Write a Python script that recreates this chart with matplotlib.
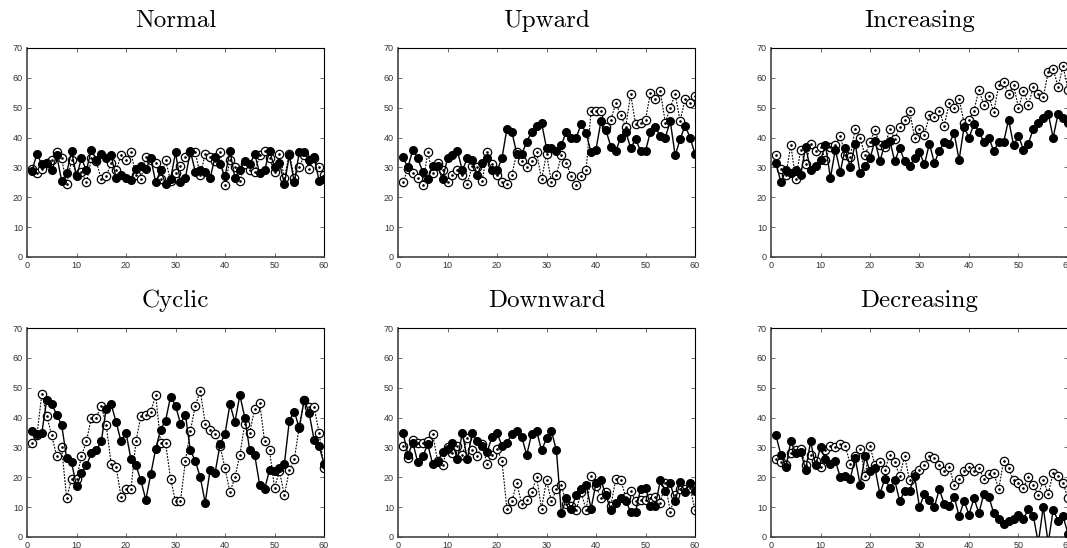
import matplotlib
matplotlib.use("Agg")
import matplotlib.pyplot as plt

# x positions: sample index 1..60
x_index = list(range(1, 61))

titles = ["Normal", "Upward", "Increasing", "Cyclic", "Downward", "Decreasing"]

normal_a = [28.8, 34.5, 31, 31.5, 29, 34, 25.5, 28, 35.5, 27, 33, 29, 36, 32.5, 34.5, 33, 34, 26.5, 27.5, 26.5,
            25.8, 29.5, 30.5, 29.5, 33, 25, 29, 24.5, 26, 35, 25, 26.5, 35.5, 28.5, 29, 28.5, 26.5, 33.5, 31, 27,
            35.5, 26.5, 29, 32, 31, 34.5, 28, 29, 35.5, 30, 31.5, 24.5, 34, 25, 35, 35, 32.5, 33.5, 25.5, 26]
normal_b = [29.5, 28, 29.5, 31.5, 32.5, 35, 33, 24.5, 32.5, 27.5, 28.5, 25, 33, 32, 26, 27, 31.5, 29, 34, 32.5,
            35, 27.5, 26, 33.5, 32.5, 31.5, 26, 32.5, 25.5, 28, 30.5, 33.5, 35, 35, 27.5, 34.5, 33.5, 32, 35, 24,
            32.5, 30, 25.5, 31, 29, 28.5, 34, 35.5, 33, 28.5, 34.5, 26.5, 34.5, 26.5, 30, 34, 29.5, 33, 30, 27.5]

upward_a = [33.5, 30, 36, 33, 28.5, 26, 30.5, 30.5, 26, 33, 34, 35.5, 29, 33, 32.5, 27.5, 31.5, 33, 29, 29,
            33, 43, 42, 34.5, 34.5, 38.5, 42, 44, 45, 36.5, 36.5, 35.5, 37.5, 42, 40, 40, 44.5, 41.5, 35, 36,
            45.5, 42.5, 37, 35.5, 40, 42, 36.5, 39.5, 35.5, 35.5, 42, 43.5, 40.5, 40, 45.5, 34, 39.5, 44, 40, 34.5]
upward_b = [25, 29.5, 28, 26.5, 24, 35, 28, 31.5, 29, 25, 27.5, 29, 27.5, 24.5, 30.5, 30, 25.5, 35, 31, 27.5,
            25, 24.5, 27.5, 35, 32, 30, 32, 35, 26, 34.5, 25, 27.5, 34, 31.5, 27, 24, 27, 29, 49, 49,
            49, 43.5, 46, 51.5, 47.5, 43.5, 54.5, 44.5, 45, 46, 55, 53, 55.5, 45, 50, 54.5, 45.5, 53, 51.5, 54]

increasing_a = [31.5, 25, 29, 28, 29, 27.5, 37, 29, 30.5, 32.5, 37.5, 26.5, 36, 28.5, 36.5, 30, 38, 28, 30.5, 33,
                39, 32, 38, 39, 32, 36.5, 32, 30.5, 33, 35, 31, 38, 31.5, 35.5, 38.5, 38, 41.5, 32.5, 43.5, 40,
                44.5, 42, 38.5, 40, 35.5, 38.5, 38.5, 46, 37.5, 40.5, 36, 38, 43, 45, 46.5, 48, 40, 48, 46.5, 45]
increasing_b = [34, 29.5, 27.5, 37.5, 26, 36, 31, 38, 35.5, 37, 32.5, 37, 37.5, 40.5, 34, 33.5, 43, 40, 34, 38.5,
                42.5, 37.5, 37, 43, 39.5, 43.5, 46, 49, 40, 43, 41, 47.5, 47, 49, 44, 51.5, 50, 53, 45, 46,
                49, 56, 51, 54, 48.5, 57.5, 58.5, 54.5, 57.5, 50, 55.5, 51, 57, 54.5, 53.5, 62, 63, 57, 64, 56]

cyclic_a = [35.5, 34.5, 35, 46, 44.5, 41, 37.5, 26.5, 25, 17, 21.5, 24, 28, 29, 32, 43, 44.5, 38.5, 32, 35,
            26, 24, 19, 12.5, 21, 29.5, 36, 39, 47, 44, 38, 41, 29, 25.5, 20, 11.5, 22.5, 21.5, 31, 34.5,
            44.5, 38.5, 47.5, 40, 29, 27.5, 17.5, 16, 22.5, 22, 23, 24.5, 39, 42, 36.5, 46, 41.5, 32.5, 30.5, 24.5]
cyclic_b = [31.5, 34, 48, 40.5, 34, 27, 30, 13, 19.5, 19.5, 27, 32, 40, 40, 44, 37.5, 24.5, 23.5, 13.5, 16,
            16, 32, 40.5, 41, 42, 47.5, 31.5, 31.5, 19.5, 12, 12, 25.5, 35.5, 44, 49, 38, 36, 34.5, 30.5, 23,
            15, 20, 27.5, 38, 35, 43, 45, 32, 29, 16.5, 22, 14, 22.5, 26, 37, 46, 43.5, 43.5, 35, 23]

downward_a = [35, 27.5, 31.5, 25, 27, 31, 24.5, 25, 28.5, 29.5, 31.5, 26, 35, 26, 35, 32, 30.5, 28.5, 33.5, 35,
              30.5, 31.5, 34.5, 35.5, 33.5, 27.5, 34.5, 35.5, 29, 33, 35.5, 29, 8, 13, 9.5, 14, 16, 17.5, 9.5, 18,
              19, 14, 9, 11.5, 13, 12, 8.5, 8.5, 16, 16.5, 10.5, 10.5, 19, 15.5, 18, 12, 18.5, 15, 18, 15.5]
downward_b = [30.5, 26.5, 32.5, 31.5, 31.5, 32, 34.5, 25.5, 24, 30, 28, 30.5, 27.5, 33, 29, 27, 31, 24.5, 27.5, 29.5,
              25.5, 9.5, 12, 18, 11, 12.5, 15, 20, 9.5, 19, 12, 16, 17.5, 11, 10.5, 9, 15, 9, 20.5, 17,
              13, 15, 10.5, 19.5, 19, 13.5, 15.5, 12, 12.5, 12.5, 13, 13.5, 11.5, 18, 8.5, 14, 16, 16, 16.5, 9]

decreasing_a = [34, 27.5, 23.5, 32, 28, 28.5, 22.5, 32, 24, 30, 26, 24.5, 25.5, 20, 20.5, 19.5, 26.5, 17.5, 27, 22,
                23, 14.5, 19.5, 16.5, 19, 12, 15.5, 15.5, 20.5, 10, 14.5, 12.5, 10, 16, 11, 10.5, 13.5, 7, 12, 7.5,
                13, 8, 14.5, 13.5, 8, 6, 4.5, 5.5, 6, 7.5, 6, 9.5, 7, -2, 10, -2, 9, 5.5, 7, 1]
decreasing_b = [26, 25, 24, 28, 29, 29.5, 24, 27.5, 25.5, 23.5, 29, 30.5, 30, 31, 30.5, 24.5, 27, 29.5, 20.5, 30.5,
                24, 25, 22.5, 27.5, 25, 20.5, 27, 19, 21, 22.5, 24, 27, 26.5, 24, 22, 23.5, 17.5, 19.5, 22, 23.5,
                22, 23, 19.5, 21, 21.5, 16, 25.5, 23, 19, 18, 16.5, 20, 17.5, 14, 19, 14.5, 21.5, 20.5, 18, 13]

series_a = [normal_a, upward_a, increasing_a, cyclic_a, downward_a, decreasing_a]
series_b = [normal_b, upward_b, increasing_b, cyclic_b, downward_b, decreasing_b]

# axes boxes in pixels (left, top), figure is 1067x548
W, H = 1067, 548
boxes = [(27, 48), (398, 48), (771, 48), (27, 328), (398, 328), (771, 328)]
AW, AH = 297, 209


def draw_panel(ax, title, ya, yb):
    # open circles with a dot, dotted line
    ax.plot(x_index, yb, color="black", linestyle=(0, (1.6, 1.2)), linewidth=0.8,
            marker="o", markersize=6, markerfacecolor="white", markeredgecolor="black",
            markeredgewidth=0.9, zorder=2)
    ax.plot(x_index, yb, linestyle="none", marker=".", markersize=1.8, color="black", zorder=2.5)
    # filled circles, solid line
    ax.plot(x_index, ya, color="black", linestyle="-", linewidth=1.0,
            marker="o", markersize=5.5, markerfacecolor="black", markeredgecolor="black", zorder=3)
    ax.set_xlim(0, 60)
    ax.set_ylim(0, 70)
    ax.set_xticks(range(0, 61, 10))
    ax.set_yticks(range(0, 71, 10))
    ax.tick_params(direction="in", length=3, width=0.6, top=True, right=True,
                   labelsize=6.5, labelcolor="#333333", pad=3, color="#555555")
    for lab in ax.get_xticklabels() + ax.get_yticklabels():
        lab.set_family("Liberation Sans")
    for side in ["top", "right"]:
        ax.spines[side].set_linewidth(0.8)
    for side in ["left", "bottom"]:
        ax.spines[side].set_linewidth(1.2)
        ax.spines[side].set_color("#444444")
    ax.set_title(title, fontfamily="cmr10", fontsize=18, pad=15)


def main():
    fig = plt.figure(figsize=(W / 100, H / 100), dpi=100)
    for (left, top), title, ya, yb in zip(boxes, titles, series_a, series_b):
        ax = fig.add_axes([left / W, (H - top - AH) / H, AW / W, AH / H])
        draw_panel(ax, title, ya, yb)
    fig.savefig("out.png", dpi=100)
    plt.close(fig)


if __name__ == "__main__":
    main()
